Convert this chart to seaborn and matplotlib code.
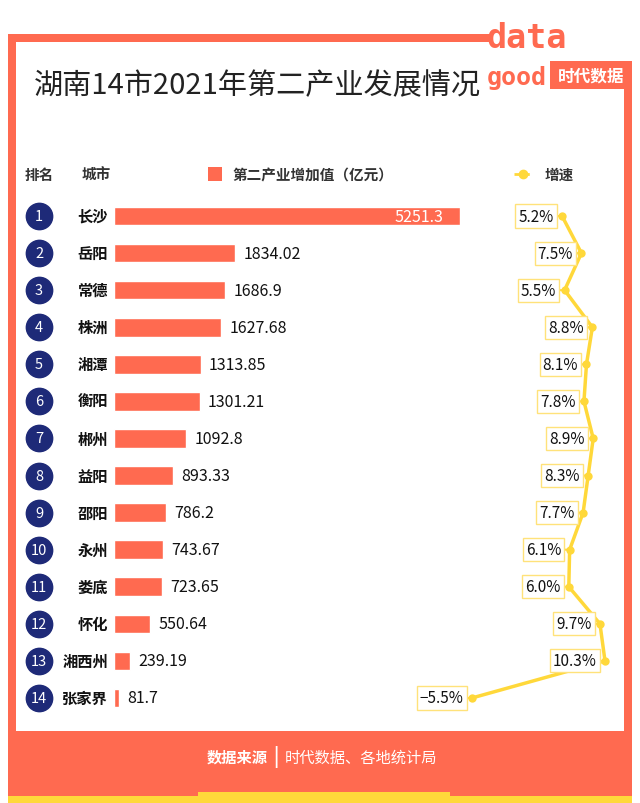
import numpy as np
import pandas as pd
import matplotlib
matplotlib.use("Agg")
import matplotlib.pyplot as plt
import matplotlib.patches as mpatches
import matplotlib.transforms as mtrans
from matplotlib.lines import Line2D
import seaborn as sns

# data
ranks = list(range(1, 15))
cities = ["长沙", "岳阳", "常德", "株洲", "湘潭", "衡阳", "郴州",
          "益阳", "邵阳", "永州", "娄底", "怀化", "湘西州", "张家界"]
added_value = [5251.3, 1834.02, 1686.9, 1627.68, 1313.85, 1301.21, 1092.8,
               893.33, 786.2, 743.67, 723.65, 550.64, 239.19, 81.7]
value_labels = ["5251.3", "1834.02", "1686.9", "1627.68", "1313.85", "1301.21", "1092.8",
                "893.33", "786.2", "743.67", "723.65", "550.64", "239.19", "81.7"]
growth = [5.2, 7.5, 5.5, 8.8, 8.1, 7.8, 8.9, 8.3, 7.7, 6.1, 6.0, 9.7, 10.3, -5.5]
growth_labels = ["5.2%", "7.5%", "5.5%", "8.8%", "8.1%", "7.8%", "8.9%",
                 "8.3%", "7.7%", "6.1%", "6.0%", "9.7%", "10.3%", "−5.5%"]

df = pd.DataFrame({"rank": ranks, "city": cities, "value": added_value, "growth": growth})
df["pos"] = np.arange(len(df))

sns.set_style("white")
plt.rcParams['font.family'] = ['Noto Sans CJK SC', 'DejaVu Sans']

CORAL = "#FF6A50"
NAVY = "#1E2A78"
YELLOW = "#FFD83A"
W, H = 640, 804

def fx(px):
    return px / W

def fy(py):
    return 1 - py / H

fig = plt.figure(figsize=(6.4, 8.04), dpi=100)

# frame
def rect(x0, y0, x1, y1, color, z=0):
    fig.patches.append(mpatches.Rectangle((fx(x0), fy(y1)), fx(x1) - fx(x0), fy(y0) - fy(y1),
                                          transform=fig.transFigure, color=color, zorder=z, lw=0))

rect(8, 35, 490, 43, CORAL)
rect(8, 35, 16, 740, CORAL)
rect(624, 70, 632, 740, CORAL)
rect(8, 732, 632, 800, CORAL)
rect(8, 797, 632, 804, YELLOW)
rect(198, 793, 450, 804, YELLOW)

# logo
fig.text(fx(487), fy(38), "data", color=CORAL, fontsize=24, fontweight='bold',
         family=['DejaVu Sans Mono'], va='center', ha='left')
fig.text(fx(487), fy(78), "good", color=CORAL, fontsize=18, fontweight='bold',
         family=['DejaVu Sans Mono'], va='center', ha='left')
rect(550, 62, 632, 90, CORAL)
fig.text(fx(591), fy(76), "时代数据", color="white", fontsize=12, fontweight='bold',
         va='center', ha='center')

# title
fig.text(fx(34), fy(86), "湖南14市2021年第二产业发展情况", fontsize=21, fontweight='light',
         color="#222222", va='center', ha='left')

# header row
fig.text(fx(25), fy(175), "排名", fontsize=10.5, fontweight='bold', color="#333333", va='center')
fig.text(fx(82), fy(175), "城市", fontsize=10.5, fontweight='bold', color="#333333", va='center')
rect(208, 168, 222, 182, CORAL)
fig.text(fx(232), fy(175), "第二产业增加值（亿元）", fontsize=10.5, fontweight='bold',
         color="#333333", va='center')
fig.lines.append(Line2D([fx(514), fx(532)], [fy(175), fy(175)], transform=fig.transFigure,
                        color=YELLOW, lw=2, ls=(0, (2, 1.5))))
fig.lines.append(Line2D([fx(523)], [fy(175)], transform=fig.transFigure, color=YELLOW,
                        marker='o', markersize=6, lw=0))
fig.text(fx(545), fy(175), "增速", fontsize=10.5, fontweight='bold', color="#333333", va='center')

# bar axes
row_top, row_bot = 198.5, 717.5
ax = fig.add_axes([fx(114), fy(row_bot), fx(460) - fx(114), (row_bot - row_top) / H])
sns.barplot(data=df, x="value", y="city", orient='h', color=CORAL, width=0.5,
            saturation=1, ax=ax)
ax.set_xlim(0, 5251.3)
ax.set_ylim(13.5, -0.5)
ax.axis('off')

for i, (v, lab) in enumerate(zip(added_value, value_labels)):
    if i == 0:
        ax.annotate(lab, xy=(v, i), xytext=(-12, 0), textcoords='offset points',
                    ha='right', va='center', color='white', fontsize=11.5)
    else:
        ax.annotate(lab, xy=(v, i), xytext=(6, 0), textcoords='offset points',
                    ha='left', va='center', color='#111111', fontsize=11.5)

# rank circles and city names
blend = mtrans.blended_transform_factory(fig.transFigure, ax.transData)
ax.scatter([fx(39)] * len(df), df["pos"], s=360, color=NAVY, transform=blend,
           clip_on=False, zorder=5)
for i, r in enumerate(ranks):
    ax.text(fx(39), i, str(r), transform=blend, color='white', fontsize=10.5,
            ha='center', va='center', zorder=6)
    ax.text(fx(108), i, cities[i], transform=blend, color='#111111', fontsize=11,
            fontweight='bold', ha='right', va='center')

# growth line axes
ax2 = fig.add_axes([fx(472), fy(row_bot), fx(605) - fx(472), (row_bot - row_top) / H])
sns.lineplot(data=df, x="growth", y="pos", orient='y', sort=False, color=YELLOW,
             lw=2.5, marker='o', markersize=6, markeredgewidth=0, ax=ax2)
ax2.set_xlim(-5.5, 10.3)
ax2.set_ylim(13.5, -0.5)
ax2.axis('off')
for line in ax2.lines:
    line.set_clip_on(False)
for i, (g, lab) in enumerate(zip(growth, growth_labels)):
    ax2.annotate(lab, xy=(g, i), xytext=(-6, 0), textcoords='offset points',
                 ha='right', va='center', fontsize=11, color='#111111',
                 bbox=dict(boxstyle='square,pad=0.2', fc='white', ec='#FFE27A', lw=1),
                 arrowprops=dict(arrowstyle='-', color=YELLOW, lw=1.5, shrinkA=0, shrinkB=0))

# footer
fig.text(fx(268), fy(758), "数据来源", fontsize=11, fontweight='bold', color='white',
         ha='right', va='center')
fig.text(fx(276), fy(757), "|", fontsize=13, fontweight='bold', color='white',
         ha='center', va='center')
fig.text(fx(285), fy(758), "时代数据、各地统计局", fontsize=11, color='white',
         ha='left', va='center')

fig.savefig("out.png", dpi=100, facecolor='white')
